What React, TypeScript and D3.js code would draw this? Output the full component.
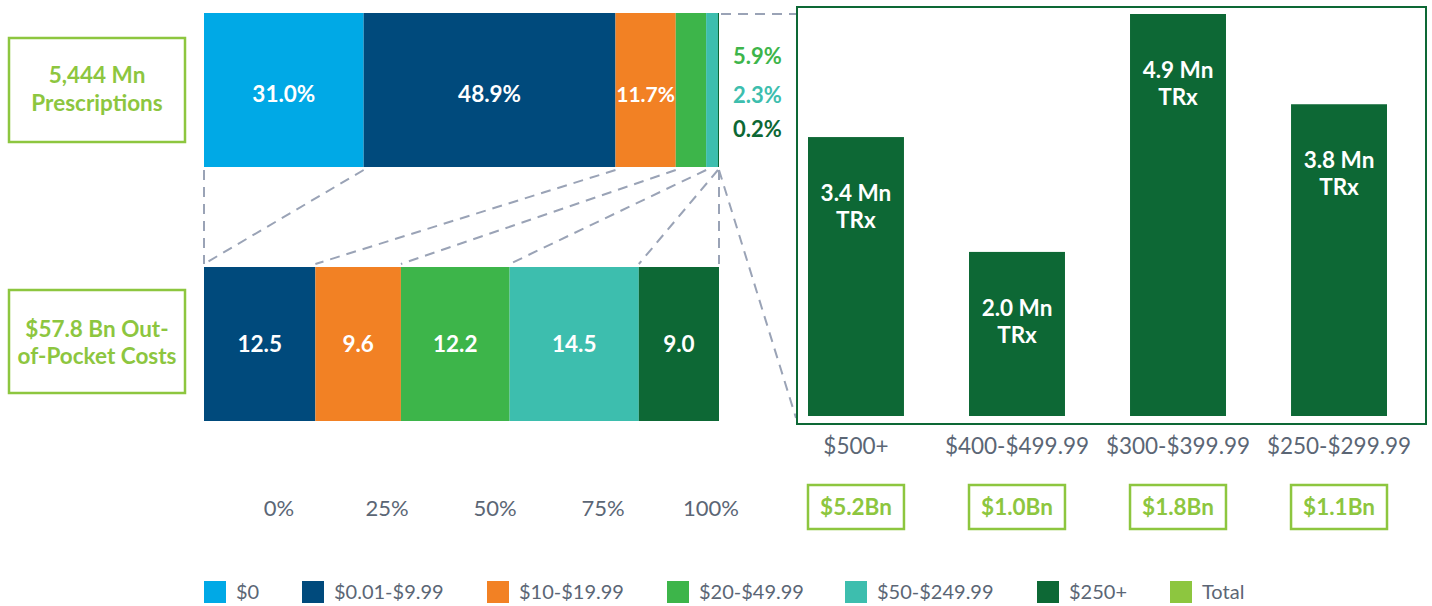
import * as d3 from 'd3';

const categories = ['$0', '$0.01-$9.99', '$10-$19.99', '$20-$49.99', '$50-$249.99', '$250+'];
const colors = ['#00A9E6', '#004A7C', '#F28124', '#3DB54A', '#3DBEAE', '#0D6835'];
const shareOfRx = [31.0, 48.9, 11.7, 5.9, 2.3, 0.2];
const oopCostBn = [0, 12.5, 9.6, 12.2, 14.5, 9.0];
const axisTicks = [0, 25, 50, 75, 100];

const highBands = ['$500+', '$400-$499.99', '$300-$399.99', '$250-$299.99'];
const highTrxMn = [3.4, 2.0, 4.9, 3.8];
const highCostBn = [5.2, 1.0, 1.8, 1.1];

const totalRx = '5,444 Mn';
const totalCost = '$57.8 Bn';

const LIME = '#8DC63F';
const GRAY = '#5B6675';
const DASH = '#9AA3B6';
const FONT = 'Lato, "Open Sans", sans-serif';

export default function App() {
  const W = 1432;
  const H = 606;

  const xTop = d3.scaleLinear().domain([0, 100]).range([204, 719]);
  const xBot = d3.scaleLinear().domain([0, d3.sum(oopCostBn)]).range([204, 719]);
  const xAxis = d3.scaleLinear().domain([0, 100]).range([279, 711]);

  const topY0 = 13, topY1 = 167;
  const botY0 = 267, botY1 = 421;

  const cumTop = [0, ...d3.cumsum(shareOfRx)];
  const cumBot = [0, ...d3.cumsum(oopCostBn)];

  const xBand = d3.scaleBand<string>().domain(highBands).range([808, 1387]).paddingInner(0.404);
  const yBar = d3.scaleLinear().domain([0, 4.9]).range([416, 14]);

  const legendX = [204, 302, 487, 667, 845, 1037, 1170];
  const legendItems = [...categories.map((c, i) => ({ c, col: colors[i] })), { c: 'Total', col: LIME }];

  return (
    <svg width={W} height={H} style={{ position: 'absolute', left: 0, top: 0, fontFamily: FONT }}>
      <rect width={W} height={H} fill="#fff" />

      {/* summary boxes */}
      <rect x={9} y={38} width={176} height={104} fill="none" stroke={LIME} strokeWidth={2.5} />
      <text x={97} y={83} textAnchor="middle" fill={LIME} fontSize={22.5} fontWeight={700}>{totalRx}</text>
      <text x={97} y={111} textAnchor="middle" fill={LIME} fontSize={22.5} fontWeight={700}>Prescriptions</text>
      <rect x={9} y={290} width={176} height={103} fill="none" stroke={LIME} strokeWidth={2.5} />
      <text x={97} y={337} textAnchor="middle" fill={LIME} fontSize={22.5} fontWeight={700}>{totalCost} Out-</text>
      <text x={97} y={364} textAnchor="middle" fill={LIME} fontSize={22.5} fontWeight={700}>of-Pocket Costs</text>

      {/* dashed connectors */}
      <g stroke={DASH} strokeWidth={2} strokeDasharray="10,7" fill="none">
        {cumTop.map((t, i) => (
          <line key={i} x1={xTop(t)} y1={topY1 + 3} x2={xBot(cumBot[i])} y2={botY0 - 3} />
        ))}
        <line x1={xTop(100) + 2} y1={topY0 + 1} x2={797} y2={topY0 + 1} />
        <line x1={xTop(100)} y1={topY1 + 3} x2={796} y2={418} />
      </g>

      {/* top bar: share of prescriptions */}
      {shareOfRx.map((v, i) => (
        <rect key={i} x={xTop(cumTop[i])} y={topY0} width={xTop(cumTop[i + 1]) - xTop(cumTop[i])}
          height={topY1 - topY0} fill={colors[i]} />
      ))}
      {shareOfRx.map((v, i) => i < 3 ? (
        <text key={i} x={(xTop(cumTop[i]) + xTop(cumTop[i + 1])) / 2} y={102} textAnchor="middle"
          fill="#fff" fontSize={i === 2 ? 21 : 22.5} fontWeight={700}>{v.toFixed(1)}%</text>
      ) : (
        <text key={i} x={733} y={[64, 103, 137][i - 3]} fill={colors[i]} fontSize={22} fontWeight={700}>
          {v.toFixed(1)}%
        </text>
      ))}

      {/* bottom bar: out-of-pocket costs */}
      {oopCostBn.map((v, i) => v > 0 ? (
        <g key={i}>
          <rect x={xBot(cumBot[i])} y={botY0} width={xBot(cumBot[i + 1]) - xBot(cumBot[i])}
            height={botY1 - botY0} fill={colors[i]} />
          <text x={(xBot(cumBot[i]) + xBot(cumBot[i + 1])) / 2} y={352} textAnchor="middle"
            fill="#fff" fontSize={22.5} fontWeight={700}>{v.toFixed(1)}</text>
        </g>
      ) : null)}

      {/* percent axis */}
      {axisTicks.map((t) => (
        <text key={t} x={xAxis(t)} y={516} textAnchor="middle" fill={GRAY} fontSize={22}>{t}%</text>
      ))}

      {/* high-cost breakdown panel */}
      <rect x={797} y={7} width={629} height={417} fill="none" stroke="#0D6835" strokeWidth={2} />
      {highBands.map((b, i) => {
        const x = xBand(b) as number;
        const bw = xBand.bandwidth();
        const top = yBar(highTrxMn[i]);
        return (
          <g key={b}>
            <rect x={x} y={top} width={bw} height={yBar(0) - top} fill="#0D6835" />
            <text x={x + bw / 2} y={top + 64} textAnchor="middle" fill="#fff" fontSize={22.5} fontWeight={700}>
              {highTrxMn[i].toFixed(1)} Mn
            </text>
            <text x={x + bw / 2} y={top + 91} textAnchor="middle" fill="#fff" fontSize={22.5} fontWeight={700}>TRx</text>
            <text x={x + bw / 2} y={454} textAnchor="middle" fill={GRAY} fontSize={22.5}>{b}</text>
            <rect x={x} y={485} width={bw} height={44} fill="none" stroke={LIME} strokeWidth={2.5} />
            <text x={x + bw / 2} y={515} textAnchor="middle" fill={LIME} fontSize={22.5} fontWeight={700}>
              ${highCostBn[i].toFixed(1)}Bn
            </text>
          </g>
        );
      })}

      {/* legend */}
      {legendItems.map((d, i) => (
        <g key={d.c}>
          <rect x={legendX[i]} y={581} width={22} height={22} fill={d.col} />
          <text x={legendX[i] + 32} y={599} fill={GRAY} fontSize={20}>{d.c}</text>
        </g>
      ))}
    </svg>
  );
}
